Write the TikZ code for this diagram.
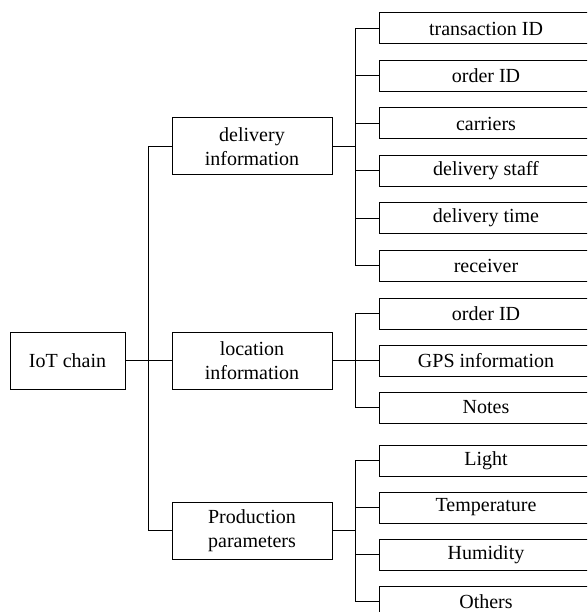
\documentclass[tikz,border=0pt]{standalone}
\usepackage{fontspec}
\setmainfont{Liberation Serif}

\tikzset{
  box/.style={draw, line width=0.6pt, inner sep=0pt, align=center,
    font=\fontsize{12}{14.4}\selectfont},
  leaf/.style={box, minimum width=128.4pt, minimum height=18.6pt},
  midbox/.style={box, minimum width=96pt, minimum height=34.2pt},
  rootbox/.style={box, minimum width=69pt, minimum height=34.2pt},
  link/.style={line width=0.6pt}
}

\begin{document}
\begin{tikzpicture}[x=0.6pt,y=-0.6pt]
    \useasboundingbox (0,0) rectangle (587,612);
    \clip (0,0) rectangle (587,612);

    \coordinate (trunk) at (148,0);
    \coordinate (bus) at (355,0);

    \node[rootbox] (root) at (67.5,360.5) {IoT chain};

    \node[midbox] (dlv) at (252,146.5) {delivery\\information};
    \node[midbox] (loc) at (252,360.5) {location\\information};
    \node[midbox] (prd) at (252,530.5) {Production\\parameters};

    \node[leaf] (d1) at (486,28.5) {transaction ID};
    \node[leaf] (d2) at (486,76) {order ID};
    \node[leaf] (d3) at (486,123.5) {carriers};
    \node[leaf] (d4) at (486,171) {delivery staff};
    \node[leaf] (d5) at (486,218) {delivery time};
    \node[leaf] (d6) at (486,265.5) {receiver};

    \node[leaf] (l1) at (486,313.5) {order ID};
    \node[leaf] (l2) at (486,360.5) {GPS information};
    \node[leaf] (l3) at (486,407.5) {Notes};

    \node[leaf] (p1) at (486,460.5) {Light};
    \node[leaf] (p2) at (486,507.5) {Temperature};
    \node[leaf] (p3) at (486,554.5) {Humidity};
    \node[leaf] (p4) at (486,601.5) {Others};

    \draw[link] (root) -- (loc);
    \draw[link] (dlv.west) -- (dlv.west -| trunk) -- (prd.west -| trunk) -- (prd.west);

    \draw[link] (dlv.east) -- (dlv.east -| bus);
    \draw[link] (d1.west) -- (d1.west -| bus) -- (d6.west -| bus) -- (d6.west);
    \draw[link] (d2.west) -- (d2.west -| bus);
    \draw[link] (d3.west) -- (d3.west -| bus);
    \draw[link] (d4.west) -- (d4.west -| bus);
    \draw[link] (d5.west) -- (d5.west -| bus);

    \draw[link] (loc.east) -- (loc.east -| bus);
    \draw[link] (l1.west) -- (l1.west -| bus) -- (l3.west -| bus) -- (l3.west);
    \draw[link] (l2.west) -- (l2.west -| bus);

    \draw[link] (prd.east) -- (prd.east -| bus);
    \draw[link] (p1.west) -- (p1.west -| bus) -- (p4.west -| bus) -- (p4.west);
    \draw[link] (p2.west) -- (p2.west -| bus);
    \draw[link] (p3.west) -- (p3.west -| bus);
\end{tikzpicture}
\end{document}
